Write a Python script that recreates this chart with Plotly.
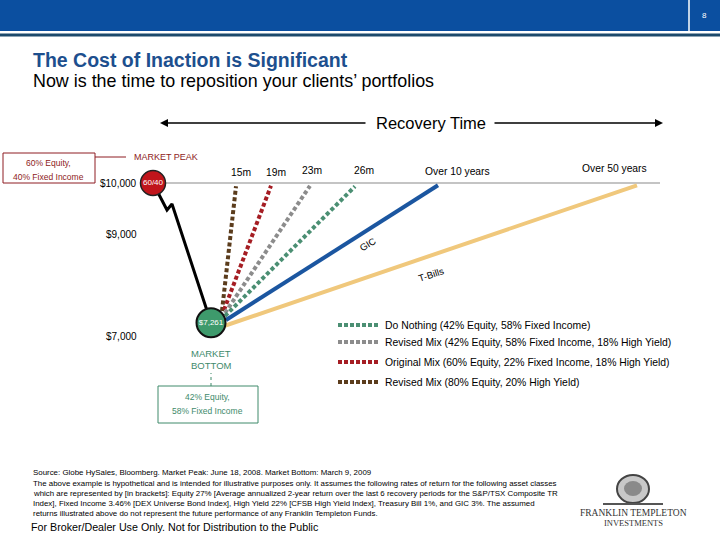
import plotly.graph_objects as go

W, H = 720, 540

# ---------------- data ----------------
peak_value = 10000
bottom_value = 7261
dollar_ticks = [10000, 9000, 7000]
dollar_tick_labels = ["$10,000", "$9,000", "$7,000"]

# decline path (timeline position, portfolio value)
decline_pos = [153, 167, 172, 211]
decline_val = [10000, 9470, 9588, 7261]

# recovery scenarios
scenario_names = [
    "Revised Mix (80% Equity, 20% High Yield)",
    "Original Mix (60% Equity, 22% Fixed Income, 18% High Yield)",
    "Revised Mix (42% Equity, 58% Fixed Income, 18% High Yield)",
    "Do Nothing (42% Equity, 58% Fixed Income)",
    "GIC",
    "T-Bills",
]
recovery_labels = ["15m", "19m", "23m", "26m", "Over 10 years", "Over 50 years"]
recovery_start_pos = [222, 224, 225, 225, 226, 224]
recovery_start_val = [7490, 7510, 7451, 7392, 7314, 7196]
recovery_end_pos = [236, 271, 310, 355, 438, 637]
recovery_end_val = [9935, 9945, 9945, 9935, 9955, 9955]

legend_order = [3, 2, 1, 0]

colors = ["#5b3c1c", "#a51d23", "#8c8c8c", "#4b8f73", "#1b56a0", "#f0c87c"]
dashes = ["4px,2.5px", "4px,2.5px", "4px,2.5px", "4px,2.5px", "solid", "solid"]

# ---------------- helpers ----------------
Y_TOP = 10000 + 183 / 0.051
Y_BOT = 7000 - (540 - 336) / 0.051


def px(x):
    return x / W


def py(y):
    return 1 - y / H


FONT = "Liberation Sans, Arial, sans-serif"

fig = go.Figure()

fig.add_trace(go.Scatter(x=[decline_pos[0], 660], y=[peak_value, peak_value], mode="lines",
                         line=dict(color="#8a8a8a", width=1.2), hoverinfo="skip"))

for i in range(len(scenario_names)):
    fig.add_trace(go.Scatter(
        x=[recovery_start_pos[i], recovery_end_pos[i]],
        y=[recovery_start_val[i], recovery_end_val[i]],
        mode="lines", name=scenario_names[i],
        line=dict(color=colors[i], width=4, dash=dashes[i]),
    ))

fig.add_trace(go.Scatter(x=decline_pos, y=decline_val, mode="lines",
                         line=dict(color="black", width=3)))

fig.add_trace(go.Scatter(
    x=[decline_pos[0]], y=[peak_value], mode="markers+text", text=["60/40"],
    textposition="middle center", textfont=dict(color="white", size=8, family=FONT),
    marker=dict(size=25, color="#c0151b", line=dict(color="#222", width=1.5))))
fig.add_trace(go.Scatter(
    x=[decline_pos[-1]], y=[bottom_value], mode="markers+text", text=["$7,261"],
    textposition="middle center", textfont=dict(color="white", size=8, family=FONT),
    marker=dict(size=29, color="#3e9a6c", line=dict(color="#111", width=2))))

shapes = []
annotations = []


def note(x, y, text, size, color="black", xanchor="center", family=FONT, **kw):
    annotations.append(dict(xref="paper", yref="paper", x=px(x), y=py(y), text=text,
                            xanchor=xanchor, yanchor="middle", showarrow=False,
                            font=dict(color=color, size=size, family=family), **kw))


# header
shapes.append(dict(type="rect", xref="paper", yref="paper", x0=0, x1=1, y0=py(31), y1=1,
                   fillcolor="#0b4fa0", line=dict(width=0), layer="below"))
shapes.append(dict(type="line", xref="paper", yref="paper", x0=px(689), x1=px(689), y0=py(31), y1=1,
                   line=dict(color="white", width=1.5)))
shapes.append(dict(type="rect", xref="paper", yref="paper", x0=0, x1=1, y0=py(36.5), y1=py(33.5),
                   fillcolor="#1d4a6c", line=dict(width=0)))
note(704, 15, "8", 8, "white")

# titles
note(31, 60, "<b>The Cost of Inaction is Significant</b>", 19.5, "#1d4f8e", xanchor="left")
note(31, 81, "Now is the time to reposition your clients’ portfolios", 17.9, xanchor="left")

# Recovery Time with arrows
note(431, 123, "Recovery Time", 16.5)
annotations.append(dict(xref="paper", yref="paper", x=px(160), y=py(123), ax=207, ay=0, text="",
                        showarrow=True, arrowhead=2, arrowsize=1, arrowwidth=1.6, arrowcolor="black"))
annotations.append(dict(xref="paper", yref="paper", x=px(663), y=py(123), ax=-170, ay=0, text="",
                        showarrow=True, arrowhead=2, arrowsize=1, arrowwidth=1.6, arrowcolor="black"))

# dollar labels
for v, t in zip(dollar_ticks, dollar_tick_labels):
    annotations.append(dict(xref="x", yref="y", x=139, y=v, xanchor="right", yanchor="middle",
                            text=t, showarrow=False, font=dict(color="black", size=10, family=FONT)))

# recovery time labels
label_x = [241, 276, 312, 364, 457, 614]
label_y = [172, 172, 170, 170, 171, 169]
for i, t in enumerate(recovery_labels):
    note(label_x[i], label_y[i], t, 10.3)

# GIC / T-Bills labels
note(367, 244, "GIC", 9.5, textangle=-31)
note(431, 274, "T-Bills", 9.5, textangle=-18)

# market peak box
RED = "#8e1c22"
shapes.append(dict(type="rect", xref="paper", yref="paper", x0=px(3), x1=px(95), y0=py(183), y1=py(153),
                   line=dict(color=RED, width=1), fillcolor="white"))
shapes.append(dict(type="line", xref="paper", yref="paper", x0=px(95), x1=px(126), y0=py(157), y1=py(157),
                   line=dict(color=RED, width=1)))
note(49, 163, "60% Equity,", 8.5, RED)
note(49, 177, "40% Fixed Income", 8.5, RED)
note(132, 157, "MARKET PEAK", 9, RED, xanchor="left")

# market bottom box
GRN = "#3e8a6b"
note(211, 353, "MARKET", 9.5, GRN)
note(211, 365, "BOTTOM", 9.5, GRN)
shapes.append(dict(type="line", xref="paper", yref="paper", x0=px(211), x1=px(211), y0=py(386), y1=py(373),
                   line=dict(color=GRN, width=1, dash="dot")))
shapes.append(dict(type="rect", xref="paper", yref="paper", x0=px(158), x1=px(258), y0=py(423), y1=py(386),
                   line=dict(color=GRN, width=1), fillcolor="white"))
note(208, 397, "42% Equity,", 8.5, GRN)
note(208, 411, "58% Fixed Income", 8.5, GRN)

# custom legend
leg_y = [325, 342, 362, 382]
for k, i in enumerate(legend_order):
    shapes.append(dict(type="line", xref="paper", yref="paper", x0=px(338), x1=px(379),
                       y0=py(leg_y[k]), y1=py(leg_y[k]),
                       line=dict(color=colors[i], width=4, dash="4px,2px")))
    note(383, leg_y[k], scenario_names[i], 10.4, xanchor="left")

# footnotes
foot = [
    "Source: Globe HySales, Bloomberg. Market Peak: June 18, 2008. Market Bottom: March 9, 2009",
    "The above example is hypothetical and is intended for illustrative purposes only. It assumes the following rates of return for the following asset classes",
    "which are represented by [in brackets]: Equity 27% [Average annualized 2-year return over the last 6 recovery periods for the S&P/TSX Composite TR",
    "Index], Fixed Income 3.46% [DEX Universe Bond Index], High Yield 22% [CFSB High Yield Index], Treasury Bill 1%, and GIC 3%. The assumed",
    "returns illustrated above do not represent the future performance of any Franklin Templeton Funds.",
]
foot_y = [472, 483, 493, 503, 513]
for t, yy in zip(foot, foot_y):
    note(31, yy, t, 7.9, xanchor="left")
note(29, 527, "For Broker/Dealer Use Only. Not for Distribution to the Public", 10.7, xanchor="left")

# logo
shapes.append(dict(type="circle", xref="paper", yref="paper", x0=px(617), x1=px(649), y0=py(503), y1=py(475),
                   line=dict(color="#444", width=2), fillcolor="#c8c8c8"))
shapes.append(dict(type="circle", xref="paper", yref="paper", x0=px(624), x1=px(642), y0=py(496), y1=py(481),
                   line=dict(width=0), fillcolor="#8a8a8a"))
shapes.append(dict(type="line", xref="paper", yref="paper", x0=px(603), x1=px(663), y0=py(504), y1=py(504),
                   line=dict(color="#555", width=2)))
note(633, 513, "FRANKLIN TEMPLETON", 9.5, "#333", family="Liberation Serif, serif")
note(633, 523, "INVESTMENTS", 8.5, "#333", family="Liberation Serif, serif")

fig.update_layout(
    width=W, height=H, margin=dict(l=0, r=0, t=0, b=0),
    paper_bgcolor="white", plot_bgcolor="white", showlegend=False,
    xaxis=dict(range=[0, W], visible=False, fixedrange=True),
    yaxis=dict(range=[Y_BOT, Y_TOP], visible=False, fixedrange=True),
    shapes=shapes, annotations=annotations,
    font=dict(family=FONT),
)

fig.write_html("out.html", config={"displayModeBar": False},
               post_script="document.body.style.margin='0px';document.body.style.overflow='hidden';")
